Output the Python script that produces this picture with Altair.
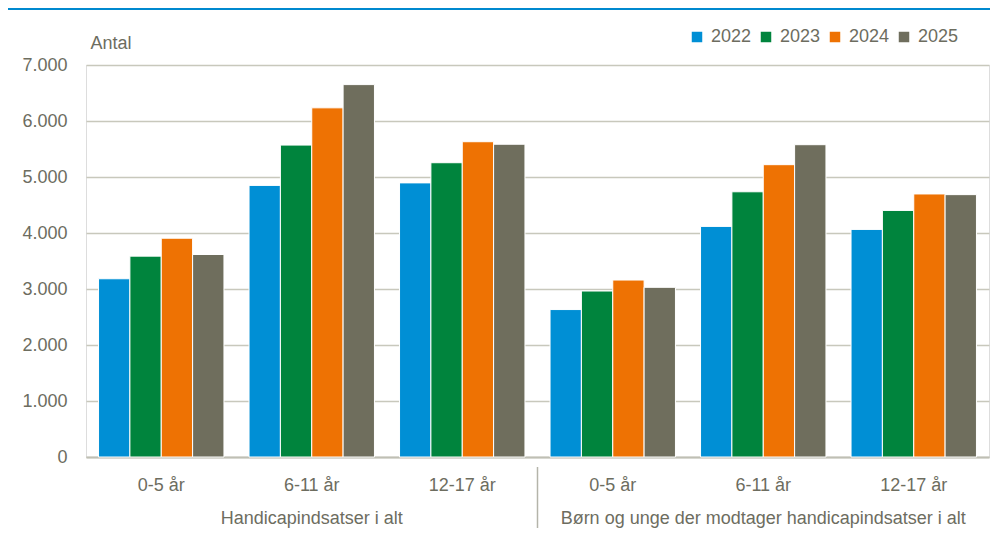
import altair as alt
import pandas as pd

# ---- data ----
supergroups = ["Handicapindsatser i alt", "Børn og unge der modtager handicapindsatser i alt"]
age_groups = ["0-5 år", "6-11 år", "12-17 år"]
years = ["2022", "2023", "2024", "2025"]
v2022 = [3183, 4850, 4895, 2633, 4118, 4064]
v2023 = [3587, 5570, 5255, 2964, 4736, 4403]
v2024 = [3907, 6235, 5630, 3160, 5220, 4697]
v2025 = [3616, 6650, 5585, 3030, 5577, 4685]
colors = ["#008FD5", "#00843D", "#EE7203", "#6F6E5D"]
y_ticks = [0, 1000, 2000, 3000, 4000, 5000, 6000, 7000]

keys = [f"{i}|{a}" for i, (s, a) in enumerate((s, a) for s in supergroups for a in age_groups)]
series = {"2022": v2022, "2023": v2023, "2024": v2024, "2025": v2025}
rows = []
for y in years:
    for k, v in zip(keys, series[y]):
        rows.append({"key": k, "year": y, "value": v})
df = pd.DataFrame(rows)

super_df = pd.DataFrame({"key": [keys[1], keys[4]], "label": supergroups})
sep_df = pd.DataFrame({"key": [keys[3]]})
top_df = pd.DataFrame({"k": [0]})

FONT = "Liberation Sans, Arial, sans-serif"
FS = 18
TXT = "#6d6d5f"
W, H = 903, 392

xscale = alt.Scale(domain=keys, paddingInner=0, paddingOuter=0)

bars = alt.Chart(df).mark_bar(stroke="white", strokeWidth=1).encode(
    x=alt.X("key:N", scale=xscale, sort=keys, title=None,
            axis=alt.Axis(labelExpr="split(datum.value, '|')[1]", labelAngle=0,
                          ticks=False, tickSize=0, domain=True, domainColor="#BFBFB4",
                          domainWidth=2, labelPadding=19, labelFont=FONT,
                          labelFontSize=FS, labelColor=TXT, grid=False)),
    xOffset=alt.XOffset("year:N", sort=years,
                        scale=alt.Scale(paddingInner=0, paddingOuter=0.4)),
    y=alt.Y("value:Q", scale=alt.Scale(domain=[0, 7000], nice=False),
            axis=alt.Axis(values=y_ticks, title="Antal", titleAngle=0, titleAlign="left",
                          titleBaseline="alphabetic", titleX=4, titleY=-17,
                          titleFont=FONT, titleFontSize=FS, titleFontWeight="normal",
                          titleColor=TXT, labelExpr="replace(format(datum.value, ','), ',', '.')",
                          labelFont=FONT, labelFontSize=FS, labelColor=TXT, labelPadding=19,
                          domain=False, ticks=False, gridColor="#C8C8BC", gridWidth=1.5)),
    color=alt.Color("year:N", sort=years, scale=alt.Scale(domain=years, range=colors),
                    legend=alt.Legend(title=None, orient="none", direction="horizontal",
                                      legendX=602, legendY=-37, symbolType="square",
                                      symbolSize=110, symbolStrokeWidth=0, labelOffset=5,
                                      columnPadding=5, labelFont=FONT, labelFontSize=FS,
                                      labelColor=TXT, padding=0)),
)

super_labels = alt.Chart(super_df).mark_text(font=FONT, fontSize=FS, color=TXT,
                                             baseline="alphabetic", align="center").encode(
    x=alt.X("key:N", scale=xscale, sort=keys),
    y=alt.value(H + 67),
    text="label:N",
)

sep = alt.Chart(sep_df).mark_rule(color="#B4B4AA", strokeWidth=1.5).encode(
    x=alt.X("key:N", scale=xscale, sort=keys, bandPosition=0),
    y=alt.value(H + 10),
    y2=alt.value(H + 80),
)

top_line = alt.Chart(top_df).mark_rule(color="#0089CF", strokeWidth=2).encode(
    x=alt.value(-78), x2=alt.value(W + 12), y=alt.value(-56),
)

chart = alt.layer(bars, super_labels, sep, top_line).properties(
    width=W, height=H,
    padding={"left": 78, "top": 57, "right": 1, "bottom": 71},
    autosize=alt.AutoSizeParams(type="none"),
).configure_view(stroke=None).configure(background="white")

chart.save("out.html", embed_options={"renderer": "svg", "actions": False})
